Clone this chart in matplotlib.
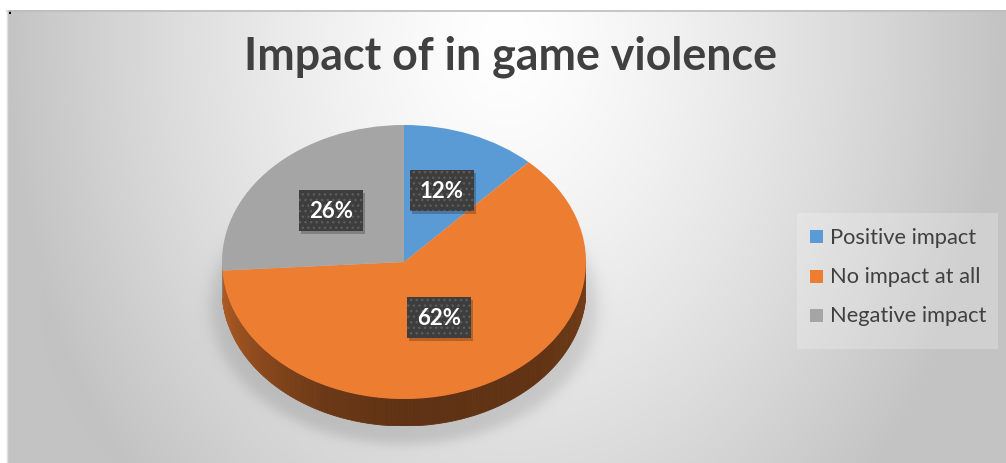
import numpy as np
import matplotlib
matplotlib.use("Agg")
import matplotlib.pyplot as plt
from matplotlib.patches import Rectangle

# ---- data ----
title = "Impact of in game violence"
categories = ["Positive impact", "No impact at all", "Negative impact"]
shares = [12, 62, 26]
colors = ["#5B9BD5", "#ED7D31", "#A5A5A5"]

W, H = 1006, 463
TEXT_DARK = "#404040"

fig = plt.figure(figsize=(W / 100, H / 100), dpi=100)
fig.patch.set_facecolor("white")
renderer = fig.canvas.get_renderer()


def fit_width(artist, target):
    """Scale an artist's font size so its rendered width equals target px."""
    w = artist.get_window_extent(renderer).width
    artist.set_fontsize(artist.get_fontsize() * target / w)


# ---- chart-area background: soft radial gradient with pie shadow ----
ax_bg = fig.add_axes([0, 0, 1, 1])
x0, y0 = 7, 10
xs = np.arange(x0, W) + 0.5
ys = np.arange(y0, H) + 0.5
X, Y = np.meshgrid(xs, ys)
d = np.hypot((X - 505) / 500, (Y - 40) / 640)
level = 255 - 60 * np.clip(d, 0, 1) ** 1.35
ds = np.hypot((X - 404) / 193, (Y - 306) / 138)
level = level - 30 * 0.5 * (1 - np.tanh((ds - 1) * 20))
img = np.dstack([level] * 3) / 255.0
ax_bg.imshow(np.clip(img, 0, 1), extent=(x0, W, H, y0),
             interpolation="bilinear", aspect="auto")
ax_bg.set_xlim(0, W)
ax_bg.set_ylim(H, 0)
ax_bg.axis("off")
ax_bg.plot([x0, W], [y0 + 0.5, y0 + 0.5], color="#bdbdbd", lw=1.2)
ax_bg.plot([x0 + 0.5, x0 + 0.5], [y0, H], color="#e0e0e0", lw=1.0)
ax_bg.add_patch(Rectangle((9, 11), 2, 3, color="black", lw=0))

# ---- 3D-style pie ----
pie_left, pie_top, pie_w, pie_b = 222, 125, 364, 137
depth_px = 27
depth = depth_px / pie_b
ax_p = fig.add_axes([pie_left / W, (H - (pie_top + 2 * pie_b + depth_px)) / H,
                     pie_w / W, (2 * pie_b + depth_px) / H])
ax_p.set_zorder(2)
ax_p.pie(shares, colors=colors, startangle=90, counterclock=False,
         wedgeprops=dict(linewidth=0))
ax_p.set_aspect("auto")
ax_p.set_xlim(-1, 1)
ax_p.set_ylim(-1 - depth, 1)
ax_p.patch.set_alpha(0)

# wedge boundary angles, matching the clockwise layout from 12 o'clock
bounds = 90 - 360 * np.concatenate([[0], np.cumsum(shares)]) / np.sum(shares)

# side wall shading: left is lit, front and right fall into shadow
shade_t = [0, 35, 65, 90, 140, 180]
shade_f = [0.78, 0.60, 0.45, 0.40, 0.41, 0.50]

for i, col in enumerate(colors):
    hi, lo = bounds[i], bounds[i + 1]
    for k in (-360, 0, 360):
        a0 = max(lo + k, -180)
        a1 = min(hi + k, 0)
        if a1 <= a0:
            continue
        angs = np.linspace(a0, a1, max(2, int(np.ceil(a1 - a0)) + 1))
        base = np.array(matplotlib.colors.to_rgb(col))
        for p, q in zip(angs[:-1], angs[1:]):
            f = np.interp((p + q) / 2 + 180, shade_t, shade_f)
            c = np.clip(base * f, 0, 1)
            r1, r2 = np.radians(p), np.radians(q)
            ax_p.fill([np.cos(r1), np.cos(r2), np.cos(r2), np.cos(r1)],
                      [np.sin(r1), np.sin(r2), np.sin(r2) - depth, np.sin(r1) - depth],
                      color=c, lw=0.6, ec=c, zorder=0.5)

# ---- overlay in pixel coordinates (y downward) ----
ax_o = fig.add_axes([0, 0, 1, 1])
ax_o.set_zorder(3)
ax_o.set_xlim(0, W)
ax_o.set_ylim(H, 0)
ax_o.axis("off")
ax_o.patch.set_alpha(0)

# data labels in dark boxes
mids = (bounds[:-1] + bounds[1:]) / 2
label_r = [0.56, 0.45, 0.55]
box_w, box_h = 64, 41
for v, m, r in zip(shares, mids, label_r):
    px, py = ax_p.transData.transform((r * np.cos(np.radians(m)),
                                       r * np.sin(np.radians(m))))
    cx, cy = px, H - py
    ax_o.add_patch(Rectangle((cx - box_w / 2 + 2, cy - box_h / 2 + 3), box_w, box_h,
                             color="black", alpha=0.22, lw=0))
    ax_o.add_patch(Rectangle((cx - box_w / 2, cy - box_h / 2), box_w, box_h,
                             facecolor="#3d3d3d", lw=0))
    ax_o.add_patch(Rectangle((cx - box_w / 2, cy - box_h / 2), box_w, box_h,
                             fill=False, hatch="...", edgecolor="#5c5c5c", lw=0))
    t = ax_o.text(cx, cy + 1, f"{v}%", ha="center", va="center", color="white",
                  fontweight="bold", family="Lato", fontsize=16)
    fit_width(t, 44)

# title
tt = ax_o.text(511, 70, title, ha="center", va="baseline", color=TEXT_DARK,
               fontweight="bold", family="Lato", fontsize=28)
fit_width(tt, 533)

# legend
ax_o.add_patch(Rectangle((797, 213), 201, 136, facecolor="white", alpha=0.22, lw=0))
leg_texts = []
for i, (lab, col) in enumerate(zip(categories, colors)):
    yc = 236.5 + 39.5 * i
    ax_o.add_patch(Rectangle((810, yc - 6.5), 13, 13, facecolor=col, lw=0))
    lt = ax_o.text(830, yc + 7, lab, ha="left", va="baseline", color=TEXT_DARK,
                   family="Lato", fontsize=14)
    leg_texts.append(lt)
fit_width(leg_texts[2], 157)
for lt in leg_texts[:2]:
    lt.set_fontsize(leg_texts[2].get_fontsize())

fig.savefig("out.png", dpi=100)
